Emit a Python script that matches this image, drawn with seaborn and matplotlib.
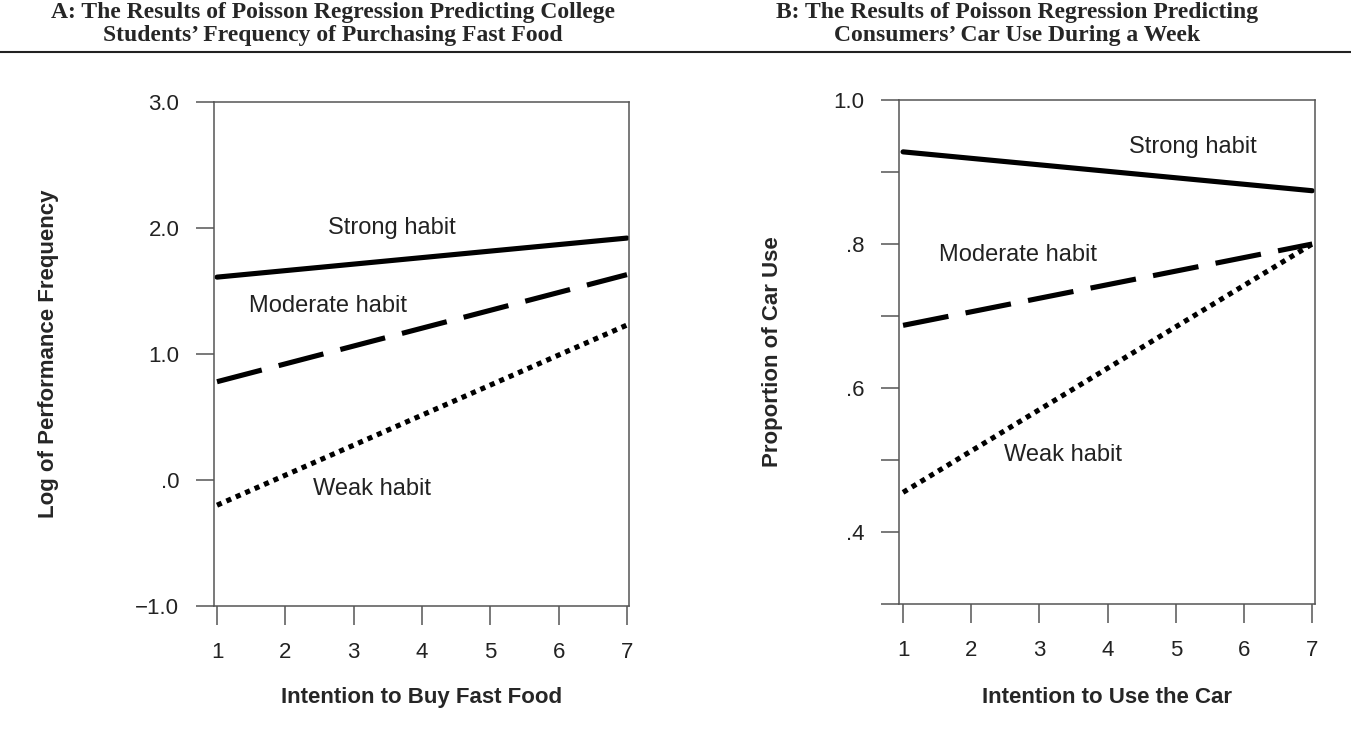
import numpy as np
import pandas as pd
import matplotlib
matplotlib.use("Agg")
import matplotlib.pyplot as plt
import seaborn as sns
from matplotlib.lines import Line2D

# values
intention = [1, 7]
habits = ["Strong habit", "Moderate habit", "Weak habit"]

fast_strong = [1.61, 1.92]
fast_moderate = [0.78, 1.63]
fast_weak = [-0.20, 1.23]

car_strong = [0.928, 0.874]
car_moderate = [0.687, 0.800]
car_weak = [0.455, 0.800]

a_yticks = [-1.0, 0.0, 1.0, 2.0, 3.0]
a_yticklabels = ["\u22121.0", ".0", "1.0", "2.0", "3.0"]
b_yticks = [0.3, 0.4, 0.5, 0.6, 0.7, 0.8, 0.9, 1.0]
b_yticklabels = ["", ".4", "", ".6", "", ".8", "", "1.0"]
xticks = [1, 2, 3, 4, 5, 6, 7]


def make_df(strong, moderate, weak):
    rows = []
    for name, vals in zip(habits, [strong, moderate, weak]):
        for x, v in zip(intention, vals):
            rows.append({"intention": x, "value": v, "habit": name})
    return pd.DataFrame(rows)


df_a = make_df(fast_strong, fast_moderate, fast_weak)
df_b = make_df(car_strong, car_moderate, car_weak)

sns.set_style("white")
plt.rcParams["font.family"] = ["Liberation Sans", "DejaVu Sans"]

fig = plt.figure(figsize=(13.51, 7.29), dpi=100)
ax_a = fig.add_axes([0.1584, 0.1687, 0.3072, 0.6914])
ax_b = fig.add_axes([0.6654, 0.1715, 0.3079, 0.6913])

dash_map = {"Strong habit": "", "Moderate habit": (9, 3.4), "Weak habit": (1, 1)}
pal = {h: "black" for h in habits}

for ax, df in [(ax_a, df_a), (ax_b, df_b)]:
    sns.lineplot(data=df, x="intention", y="value", hue="habit", style="habit",
                 palette=pal, dashes=dash_map, linewidth=3.7, legend=False, ax=ax)
    for s in ax.spines.values():
        s.set_visible(True)
        s.set_color("#555555")
        s.set_linewidth(1.1)
    ax.set_xticks(xticks)
    ax.set_xticklabels([str(x) for x in xticks])
    ax.tick_params(axis="both", direction="out", colors="#555555", labelcolor="#222222",
                   labelsize=16, width=1.1)
    ax.tick_params(axis="y", length=13, pad=12, left=True)
    ax.tick_params(axis="x", length=14, pad=12, bottom=True)

ax_a.set_xlim(0.956, 7.03)
ax_a.set_ylim(-1.0, 3.0)
ax_a.set_yticks(a_yticks)
ax_a.set_yticklabels(a_yticklabels)
ax_a.set_xlabel("Intention to Buy Fast Food", fontsize=16, fontweight="bold", labelpad=17)
ax_a.set_ylabel("Log of Performance Frequency", fontsize=16, fontweight="bold", labelpad=55)
ax_a.text(2.62, 2.0, "Strong habit", fontsize=17, color="#222222", va="center")
ax_a.text(1.47, 1.38, "Moderate habit", fontsize=17, color="#222222", va="center")
ax_a.text(2.41, -0.07, "Weak habit", fontsize=17, color="#222222", va="center")

ax_b.set_xlim(0.94, 7.04)
ax_b.set_ylim(0.3, 1.0)
ax_b.set_yticks(b_yticks)
ax_b.set_yticklabels(b_yticklabels)
ax_b.set_xlabel("Intention to Use the Car", fontsize=16, fontweight="bold", labelpad=19)
ax_b.set_ylabel("Proportion of Car Use", fontsize=16, fontweight="bold", labelpad=36)
ax_b.text(4.32, 0.935, "Strong habit", fontsize=17, color="#222222", va="center")
ax_b.text(1.52, 0.785, "Moderate habit", fontsize=17, color="#222222", va="center")
ax_b.text(2.48, 0.507, "Weak habit", fontsize=17, color="#222222", va="center")

title_kw = dict(fontsize=17, fontweight="bold", family=["Liberation Serif", "DejaVu Serif"],
                ha="center", va="top", linespacing=1.12)
fig.text(333 / 1351, 1 - 2 / 729,
         "A: The Results of Poisson Regression Predicting College\n"
         "Students\u2019 Frequency of Purchasing Fast Food", **title_kw)
fig.text(1017 / 1351, 1 - 2 / 729,
         "B: The Results of Poisson Regression Predicting\n"
         "Consumers\u2019 Car Use During a Week", **title_kw)
fig.add_artist(Line2D([0, 1], [1 - 52 / 729, 1 - 52 / 729], color="#222222", linewidth=1.5,
                      transform=fig.transFigure))

fig.savefig("out.png", dpi=100)
